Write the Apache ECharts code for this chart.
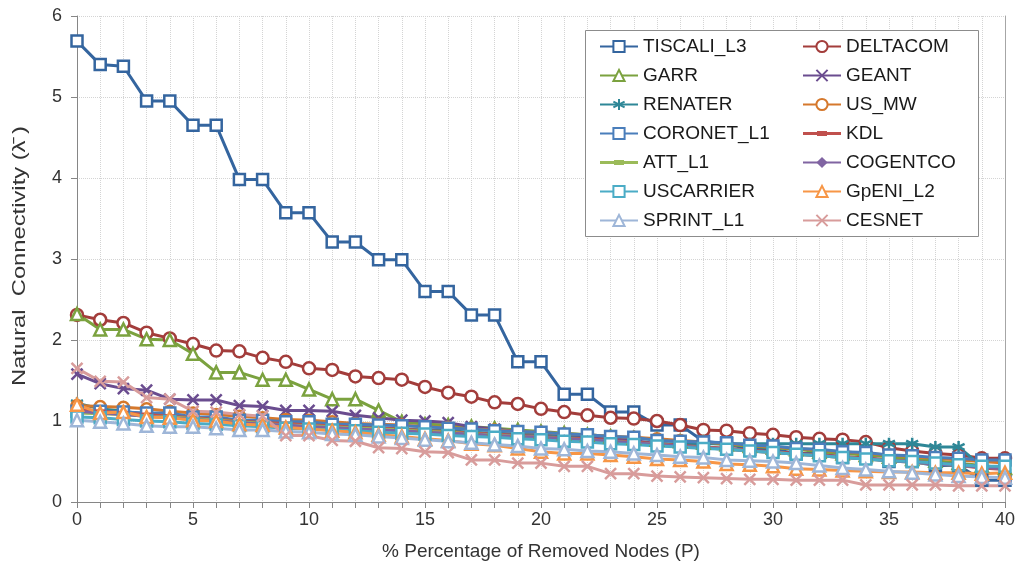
<!DOCTYPE html>
<html>
<head>
<meta charset="utf-8">
<script src="https://cdn.jsdelivr.net/npm/echarts@6/dist/echarts.min.js"></script>
<style>
  html, body { margin: 0; padding: 0; background: #fff; }
  #chart { width: 1018px; height: 569px; }
</style>
</head>
<body>
<div id="chart"></div>
<script>
// Percentage of removed nodes (x values)
const pct = [0,1,2,3,4,5,6,7,8,9,10,11,12,13,14,15,16,17,18,19,20,21,22,23,24,25,26,27,28,29,30,31,32,33,34,35,36,37,38,39,40];

// Natural connectivity per topology
const TISCALI_L3 = [5.69,5.40,5.38,4.95,4.95,4.65,4.65,3.98,3.98,3.57,3.57,3.21,3.21,2.99,2.99,2.60,2.60,2.31,2.31,1.73,1.73,1.33,1.33,1.11,1.11,0.95,0.95,0.75,0.72,0.65,0.65,0.60,0.60,0.55,0.55,0.50,0.50,0.45,0.45,0.27,0.27];
const DELTACOM   = [2.31,2.25,2.21,2.09,2.02,1.95,1.87,1.86,1.78,1.73,1.65,1.63,1.55,1.53,1.51,1.42,1.35,1.30,1.23,1.21,1.15,1.11,1.07,1.04,1.03,1.00,0.95,0.89,0.88,0.85,0.83,0.80,0.78,0.77,0.74,0.67,0.63,0.60,0.58,0.54,0.54];
const GARR       = [2.32,2.13,2.13,2.01,2.00,1.83,1.60,1.60,1.51,1.51,1.39,1.27,1.27,1.13,0.99,0.96,0.95,0.93,0.91,0.89,0.87,0.85,0.83,0.81,0.79,0.77,0.75,0.73,0.71,0.69,0.67,0.65,0.62,0.60,0.58,0.56,0.53,0.51,0.48,0.45,0.42];
const GEANT      = [1.58,1.46,1.40,1.38,1.27,1.26,1.26,1.19,1.18,1.13,1.13,1.12,1.07,1.04,1.01,1.00,0.98,0.93,0.90,0.87,0.84,0.82,0.80,0.78,0.76,0.72,0.70,0.68,0.66,0.64,0.62,0.60,0.58,0.56,0.54,0.52,0.50,0.48,0.46,0.44,0.42];
const RENATER    = [1.22,1.15,1.12,1.08,1.06,1.03,1.02,1.00,0.98,0.97,0.96,0.94,0.93,0.92,0.90,0.89,0.88,0.86,0.85,0.84,0.82,0.80,0.78,0.75,0.73,0.72,0.72,0.72,0.72,0.72,0.72,0.72,0.72,0.72,0.72,0.72,0.72,0.68,0.68,0.44,0.42];
const US_MW      = [1.19,1.18,1.17,1.15,1.12,1.10,1.08,1.06,1.04,1.02,1.01,0.99,0.97,0.96,0.95,0.93,0.92,0.90,0.89,0.87,0.86,0.84,0.83,0.81,0.80,0.78,0.76,0.74,0.72,0.70,0.68,0.66,0.64,0.62,0.60,0.58,0.56,0.54,0.52,0.50,0.48];
const CORONET_L1 = [1.12,1.12,1.11,1.10,1.10,1.05,1.05,1.01,1.01,0.99,0.99,0.96,0.96,0.95,0.94,0.93,0.91,0.90,0.88,0.87,0.86,0.84,0.83,0.81,0.80,0.76,0.75,0.74,0.73,0.70,0.69,0.66,0.65,0.62,0.61,0.58,0.57,0.55,0.54,0.52,0.52];
const KDL        = [1.14,1.12,1.10,1.08,1.06,1.04,1.02,1.00,0.98,0.97,0.95,0.94,0.92,0.91,0.90,0.88,0.87,0.85,0.84,0.82,0.81,0.79,0.78,0.76,0.74,0.72,0.70,0.68,0.66,0.64,0.62,0.60,0.58,0.56,0.54,0.52,0.50,0.48,0.45,0.42,0.40];
const ATT_L1     = [1.10,1.09,1.08,1.06,1.05,1.03,1.01,0.99,0.97,0.95,0.94,0.93,0.91,0.90,0.89,0.87,0.86,0.84,0.83,0.81,0.80,0.78,0.77,0.75,0.73,0.71,0.69,0.67,0.65,0.63,0.61,0.59,0.57,0.55,0.53,0.51,0.49,0.47,0.45,0.43,0.42];
const COGENTCO   = [1.12,1.10,1.08,1.06,1.04,1.02,1.00,0.98,0.96,0.95,0.93,0.92,0.90,0.89,0.88,0.86,0.85,0.84,0.82,0.81,0.80,0.78,0.77,0.75,0.73,0.71,0.69,0.67,0.65,0.63,0.61,0.59,0.57,0.55,0.53,0.51,0.49,0.47,0.45,0.43,0.41];
const USCARRIER  = [1.05,1.04,1.02,1.00,0.99,0.97,0.96,0.94,0.93,0.91,0.90,0.89,0.88,0.86,0.85,0.84,0.82,0.81,0.80,0.78,0.77,0.75,0.74,0.72,0.71,0.69,0.68,0.66,0.65,0.63,0.61,0.59,0.57,0.55,0.53,0.51,0.50,0.48,0.46,0.44,0.44];
const GpENI_L2   = [1.20,1.10,1.11,1.05,1.04,1.01,1.00,0.96,0.95,0.92,0.90,0.88,0.86,0.83,0.81,0.78,0.76,0.72,0.70,0.66,0.62,0.60,0.60,0.58,0.56,0.53,0.52,0.50,0.47,0.46,0.44,0.41,0.40,0.39,0.38,0.37,0.37,0.36,0.36,0.35,0.36];
const SPRINT_L1  = [1.01,0.99,0.97,0.94,0.93,0.93,0.91,0.89,0.89,0.87,0.86,0.84,0.83,0.81,0.79,0.77,0.75,0.73,0.71,0.69,0.66,0.65,0.63,0.62,0.60,0.58,0.56,0.55,0.52,0.51,0.50,0.48,0.45,0.42,0.40,0.38,0.36,0.34,0.32,0.31,0.30];
const CESNET     = [1.65,1.49,1.48,1.29,1.27,1.12,1.11,1.08,1.06,0.82,0.82,0.76,0.75,0.67,0.66,0.62,0.61,0.52,0.52,0.48,0.48,0.44,0.44,0.35,0.35,0.32,0.31,0.30,0.29,0.28,0.28,0.27,0.27,0.27,0.21,0.21,0.21,0.21,0.20,0.20,0.20];

const yTicks = [0,1,2,3,4,5,6];

// Marker shapes
const X_MARK = 'path://M0,0L10,10M0,10L10,0';
const STAR_MARK = 'path://M5,0L5,10M0.67,2.5L9.33,7.5M0.67,7.5L9.33,2.5';
// Legend key for series drawn with a short dash marker: line with a thicker middle bar
const DASH_KEY = 'path://M0,5.5H14V4.5H24V5.5H38V8.5H24V9.5H14V8.5H0Z';

// name, values, colour, marker, marker size, hollow?
const seriesDefs = [
  ['TISCALI_L3', TISCALI_L3, '#34659F', 'rect', 11, true],
  ['DELTACOM',   DELTACOM,   '#A33D3B', 'circle', 12, true],
  ['GARR',       GARR,       '#7BA23F', 'triangle', 12, true],
  ['GEANT',      GEANT,      '#6A4C8F', X_MARK, 11, false],
  ['RENATER',    RENATER,    '#2E8797', STAR_MARK, 12, false],
  ['US_MW',      US_MW,      '#D5782C', 'circle', 11, true],
  ['CORONET_L1', CORONET_L1, '#4A7EBB', 'rect', 11, true],
  ['KDL',        KDL,        '#C0504D', 'rect', [10, 4], false],
  ['ATT_L1',     ATT_L1,     '#9BBB59', 'rect', [10, 4], false],
  ['COGENTCO',   COGENTCO,   '#8064A2', 'diamond', 9, false],
  ['USCARRIER',  USCARRIER,  '#4BACC6', 'rect', 11, true],
  ['GpENI_L2',   GpENI_L2,   '#F79646', 'triangle', 12, true],
  ['SPRINT_L1',  SPRINT_L1,  '#9EB6D8', 'triangle', 12, true],
  ['CESNET',     CESNET,     '#D89C9B', X_MARK, 11, false]
];

const series = seriesDefs.map(([name, vals, color, symbol, size, hollow]) => {
  const isPath = typeof symbol === 'string' && symbol.startsWith('path://');
  return {
    name: name,
    type: 'line',
    data: pct.map((p, i) => [p, vals[i]]),
    symbol: symbol,
    symbolSize: size,
    showAllSymbol: true,
    lineStyle: { color: color, width: 3 },
    itemStyle: hollow
      ? { color: '#ffffff', borderColor: color, borderWidth: 2.5 }
      : (isPath
          ? { color: color, borderColor: color, borderWidth: 2.5 }
          : { color: color, borderColor: color, borderWidth: 0 }),
    emphasis: { disabled: true }
  };
});

const legendItem = d => (Array.isArray(d[4])
  ? { name: d[0], icon: DASH_KEY, itemStyle: { color: d[2], borderWidth: 0 } }
  : { name: d[0] });
const leftCol = seriesDefs.filter((_, i) => i % 2 === 0).map(legendItem);
const rightCol = seriesDefs.filter((_, i) => i % 2 === 1).map(legendItem);

const FONT = 'Liberation Sans, Arial, sans-serif';

const legendBase = {
  orient: 'vertical',
  top: 32,
  itemWidth: 38,
  itemHeight: 14,
  itemGap: 10,
  textStyle: { fontFamily: FONT, fontSize: 19, color: '#1a1a1a' },
  selectedMode: false,
  z: 5
};

const gridLine = { show: true, lineStyle: { color: '#d4d4d4', type: 'dotted', width: 1 } };
const tickText = { fontFamily: FONT, fontSize: 18, color: '#333' };
const titleText = { fontFamily: FONT, fontSize: 19, color: '#333' };

const chart = echarts.init(document.getElementById('chart'), null, { renderer: 'canvas' });
chart.setOption({
  animation: false,
  backgroundColor: '#ffffff',
  grid: { left: 77, right: 13, top: 16, bottom: 67 },
  xAxis: {
    type: 'value',
    min: 0, max: 40, interval: 5,
    name: '% Percentage of Removed Nodes (P)',
    nameLocation: 'middle',
    nameGap: 40,
    nameTextStyle: titleText,
    axisLine: { show: true, lineStyle: { color: '#868686', width: 1 } },
    axisTick: { show: true, length: 6, lineStyle: { color: '#868686' } },
    minorTick: { show: true, splitNumber: 5, length: 6, lineStyle: { color: '#868686' } },
    axisLabel: Object.assign({ margin: 9 }, tickText),
    splitLine: gridLine,
    minorSplitLine: gridLine
  },
  yAxis: [{
    type: 'value',
    min: yTicks[0], max: yTicks[yTicks.length - 1], interval: 1,
    axisLine: { show: true, lineStyle: { color: '#868686', width: 1 } },
    axisTick: { show: true, length: 6, lineStyle: { color: '#868686' } },
    axisLabel: Object.assign({ margin: 15 }, tickText),
    splitLine: gridLine
  }, {
    type: 'value',
    position: 'right',
    min: 0, max: 6, interval: 1,
    axisLine: { show: true, lineStyle: { color: '#a6a6a6', width: 1 } },
    axisTick: { show: false },
    axisLabel: { show: false },
    splitLine: { show: false }
  }],
  legend: [
    Object.assign({ data: leftCol, left: 594 }, legendBase),
    Object.assign({ data: rightCol, left: 797 }, legendBase)
  ],
  graphic: [{
    type: 'rect',
    z: 3,
    shape: { x: 585.5, y: 30.5, width: 393, height: 206 },
    style: { fill: '#ffffff', stroke: '#8c8c8c', lineWidth: 1 }
  }, {
    // vertical axis title, drawn slightly stretched along its length
    type: 'text',
    z: 5,
    x: 20,
    y: 256,
    rotation: Math.PI / 2,
    scaleX: 1.25,
    style: {
      text: 'Natural  Connectivity (\u03BB\u0304 )',
      font: '19px ' + FONT,
      fill: '#333',
      align: 'center',
      verticalAlign: 'middle'
    }
  }],
  series: series
});
</script>
</body>
</html>
